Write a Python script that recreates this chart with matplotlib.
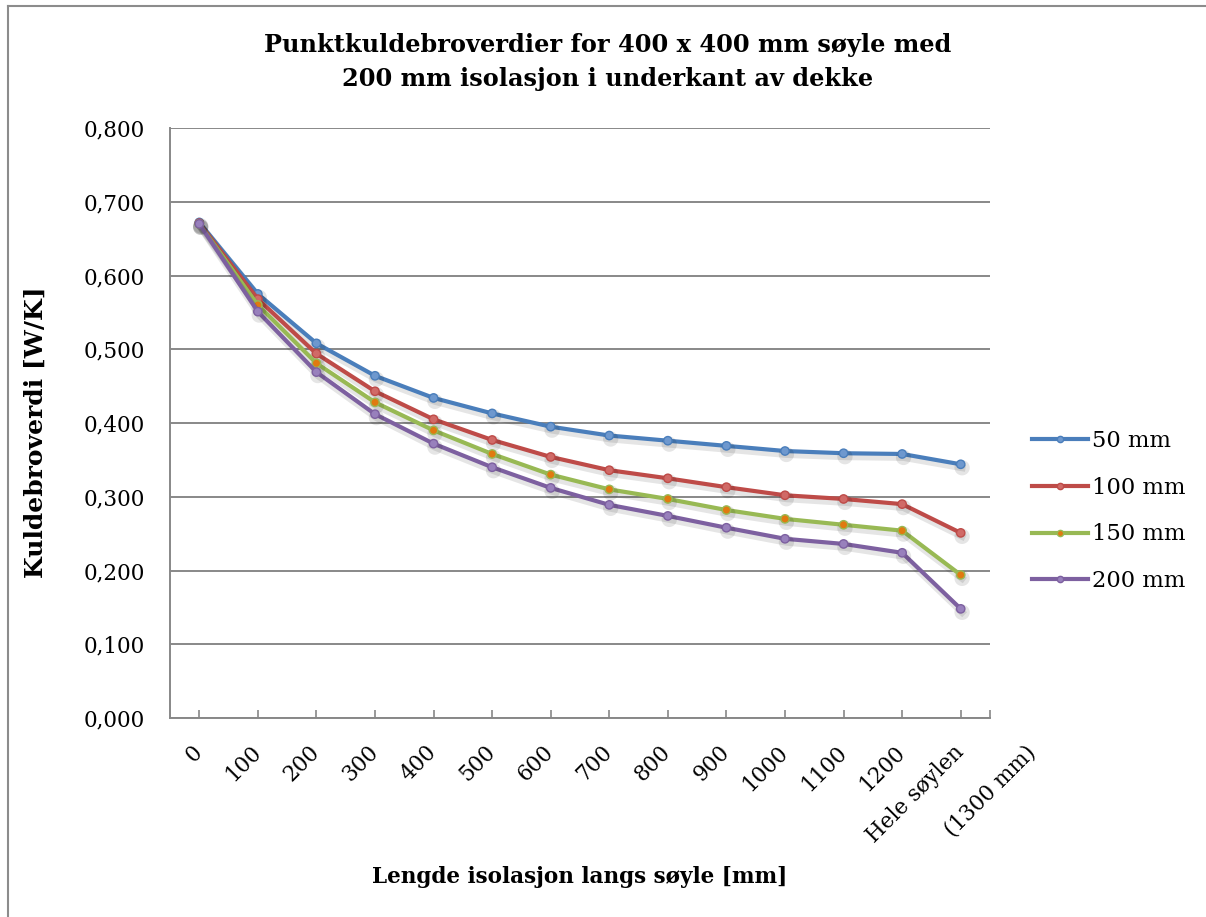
import matplotlib
matplotlib.use("Agg")
import matplotlib.pyplot as plt
import matplotlib.patheffects as pe
from matplotlib.lines import Line2D
from matplotlib.ticker import FuncFormatter

categories = ["0", "100", "200", "300", "400", "500", "600", "700", "800",
              "900", "1000", "1100", "1200", "Hele søylen\n(1300 mm)"]
s50 = [0.672, 0.575, 0.508, 0.464, 0.434, 0.413, 0.395, 0.383, 0.376,
       0.369, 0.362, 0.359, 0.358, 0.344]
s100 = [0.671, 0.568, 0.494, 0.443, 0.405, 0.377, 0.354, 0.336, 0.325,
        0.313, 0.302, 0.297, 0.290, 0.251]
s150 = [0.670, 0.560, 0.481, 0.428, 0.390, 0.358, 0.330, 0.310, 0.297,
        0.282, 0.270, 0.262, 0.254, 0.194]
s200 = [0.670, 0.551, 0.469, 0.412, 0.372, 0.340, 0.312, 0.289, 0.274,
        0.258, 0.243, 0.236, 0.224, 0.148]
series_names = ["50 mm", "100 mm", "150 mm", "200 mm"]
title = "Punktkuldebroverdier for 400 x 400 mm søyle med\n200 mm isolasjon i underkant av dekke"
xlabel = "Lengde isolasjon langs søyle [mm]"
ylabel = "Kuldebroverdi [W/K]"

colors = ["#4A7EBB", "#BE4B48", "#98B954", "#7D60A0"]
mfaces = ["#6E98CE", "#D06A67", "#E07A10", "#9880BC"]

FONT = "DejaVu Serif"
fig = plt.figure(figsize=(12.06, 9.17), dpi=100)
W, H = 1206, 917
ax = fig.add_axes([170 / W, 1 - 718 / H, (990 - 170) / W, (718 - 128) / H])

x = list(range(len(categories)))
shadow = [pe.SimpleLineShadow(offset=(1.0, -2.5), alpha=0.10, shadow_color="black", linewidth=5),
          pe.Normal()]
handles = []
for vals, c, mf, name in zip([s50, s100, s150, s200], colors, mfaces, series_names):
    ax.plot(x, vals, color=c, lw=3.0, marker="o", ms=6, mfc=mf, mec=c,
            mew=1.0, label=name, path_effects=shadow, zorder=3)
    handles.append(Line2D([0], [0], color=c, lw=3.0, marker="o", ms=4.5, mfc=mf, mec=c, mew=1.0))

ax.set_xlim(-0.5, len(categories) - 0.5)
ax.set_ylim(0, 0.8)
ax.set_yticks([i / 10 for i in range(9)])
ax.yaxis.set_major_formatter(FuncFormatter(lambda v, p: f"{v:.3f}".replace(".", ",")))
ax.yaxis.grid(True, color="#888888", lw=1.4)
ax.set_axisbelow(True)
for s in ["top", "right"]:
    ax.spines[s].set_visible(False)
for s in ["left", "bottom"]:
    ax.spines[s].set_color("#888888")
    ax.spines[s].set_linewidth(1.4)
ax.tick_params(axis="y", length=0, pad=18, labelsize=15.5)
for lab in ax.get_yticklabels():
    lab.set_fontfamily(FONT)

ax.set_xticks(x + [len(categories) - 0.5])
ax.set_xticklabels([""] * (len(categories) + 1))
ax.tick_params(axis="x", direction="in", length=6, color="#888888", width=1.2)
for i, lab in enumerate(categories):
    lines = lab.split("\n")
    offsets = [(3, -25.5), (55, -25.5)]
    for j, part in enumerate(lines):
        ax.annotate(part, xy=(i, 0), xycoords=("data", "axes fraction"),
                    xytext=offsets[j], textcoords="offset points",
                    rotation=45, rotation_mode="anchor", ha="right", va="baseline",
                    fontsize=15.5, family=FONT)

fig.text(608 / W, 1 - 62 / H, title, ha="center", va="center", fontsize=17.3,
         fontweight="bold", family=FONT, linespacing=1.5)
fig.text(580 / W, 1 - 877 / H, xlabel, ha="center", va="center", fontsize=15.5,
         fontweight="bold", family=FONT)
fig.text(36 / W, 1 - 432 / H, ylabel, ha="center", va="center", fontsize=18,
         fontweight="bold", family=FONT, rotation=90)

leg = fig.legend(handles, series_names, loc="center left",
                 bbox_to_anchor=(1012 / W, 1 - 511 / H), frameon=False,
                 prop={"family": FONT, "size": 16.3}, handlelength=2.45,
                 handletextpad=0.2, labelspacing=1.1)

fig.add_artist(Line2D([8 / W, 8 / W], [0, 1 - 6 / H], transform=fig.transFigure,
                      color="#8C8C8C", lw=1.5))
fig.add_artist(Line2D([8 / W, 1], [1 - 6 / H, 1 - 6 / H], transform=fig.transFigure,
                      color="#8C8C8C", lw=1.5))

fig.savefig("out.png", dpi=100)
